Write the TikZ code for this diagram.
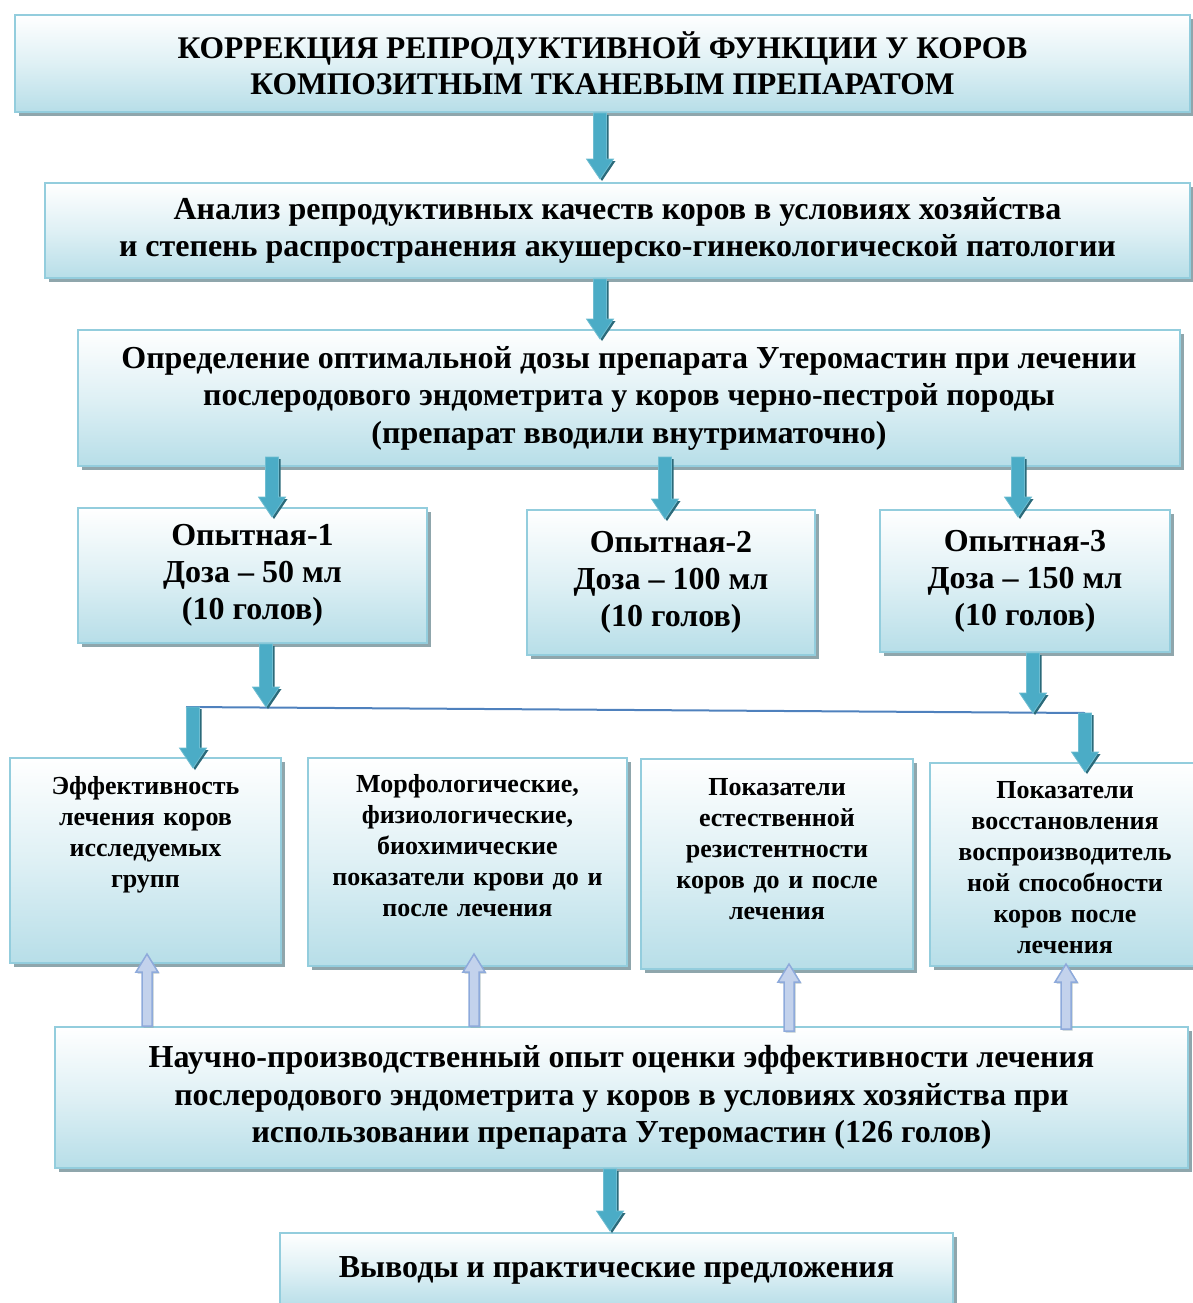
\documentclass[tikz,border=0pt]{standalone}
\usepackage{fontspec}
\setmainfont{Liberation Serif}
\usetikzlibrary{calc,shadows}

\definecolor{boxedge}{HTML}{93CDDD}
\definecolor{boxblue}{HTML}{B7DEE8}
\definecolor{shadowgrey}{HTML}{8FA6AC}
\definecolor{arrteal}{HTML}{4BACC6}
\definecolor{arrlight}{HTML}{93D3E3}
\definecolor{arrdark}{HTML}{2B6A7A}
\definecolor{lavfill}{HTML}{C3D2EC}
\definecolor{lavedge}{HTML}{8EAADB}
\definecolor{joinblue}{HTML}{4F81BD}

\newcommand{\headfnt}{\fontsize{31.5}{36}\selectfont\bfseries}
\newcommand{\bodyfnt}{\fontsize{32}{37.5}\selectfont\bfseries}
\newcommand{\groupfnt}{\fontsize{32}{37}\selectfont\bfseries}
\newcommand{\cellfnt}{\fontsize{26}{31}\selectfont\bfseries}

% fat arrow: x of the tip point, y from start to tip
\newcommand{\tealarrow}[2]{%
  \path[tealarr] let \p1=#1, \p2=#2 in
    (\x2-6.5,\y1) -- (\x2+6.5,\y1) -- (\x2+6.5,\y2+20) -- (\x2+13.5,\y2+20)
    -- (\x2,\y2) -- (\x2-13.5,\y2+20) -- (\x2-6.5,\y2+20) -- cycle;}
\newcommand{\lavarrow}[2]{%
  \path[lavarr] let \p1=#1, \p2=#2 in
    (\x2-5,\y1) -- (\x2+5,\y1) -- (\x2+5,\y2-18) -- (\x2+11,\y2-18)
    -- (\x2,\y2) -- (\x2-11,\y2-18) -- (\x2-5,\y2-18) -- cycle;}

\tikzset{
  plate/.style={draw=boxedge, line width=2pt, top color=white, bottom color=boxblue,
    middle color=boxblue!45,
    drop shadow={shadow xshift=4pt, shadow yshift=-4pt, fill=shadowgrey, opacity=1},
    align=center, inner sep=0pt},
  cell/.style={plate, font=\cellfnt, anchor=north, inner xsep=6pt},
  tealarr/.style={draw=arrteal!80, line width=0.8pt, left color=arrteal,
    middle color=arrlight, right color=arrteal,
    drop shadow={shadow xshift=2pt, shadow yshift=-2pt, fill=arrdark, opacity=1}},
  lavarr/.style={draw=lavedge, line width=1.5pt, left color=lavfill,
    middle color=lavfill!30, right color=lavfill,
    drop shadow={shadow xshift=1.5pt, shadow yshift=-1.5pt, fill=shadowgrey, opacity=.6}},
  joinline/.style={draw=joinblue, line width=2pt}
}

\begin{document}
\begin{tikzpicture}[x=1pt,y=1pt]
  \useasboundingbox (0,0) rectangle (1192,-1303);

  % Main boxes
  \node[plate, font=\headfnt, minimum width=1175, minimum height=97] (title) at (602.5,-63.5)
    {КОРРЕКЦИЯ РЕПРОДУКТИВНОЙ ФУНКЦИИ У КОРОВ\\ КОМПОЗИТНЫМ ТКАНЕВЫМ ПРЕПАРАТОМ};
  \node[plate, font=\bodyfnt, minimum width=1145, minimum height=95] (survey) at (617.5,-230.5)
    {Анализ репродуктивных качеств коров в условиях хозяйства\\
     и степень распространения акушерско-гинекологической патологии};
  \node[plate, font=\bodyfnt, minimum width=1102, minimum height=136] (dose) at (629,-398)
    {Определение оптимальной дозы препарата Утеромастин при лечении\\
     послеродового эндометрита у коров черно-пестрой породы\\
     (препарат вводили внутриматочно)};

  % Groups
  \node[plate, font=\groupfnt, minimum width=349, minimum height=135] (grp1) at (252.5,-575.5)
    {Опытная-1\\ Доза – 50 мл\\ (10 голов)};
  \node[plate, font=\groupfnt, minimum width=288, minimum height=145] (grp2) at (671,-582.5)
    {Опытная-2\\ Доза – 100 мл\\ (10 голов)};
  \node[plate, font=\groupfnt, minimum width=290, minimum height=142] (grp3) at (1025,-581)
    {Опытная-3\\ Доза – 150 мл\\ (10 голов)};

  % Indicators
  \node[cell, text width=259pt, text height=36pt, text depth=169pt] (effect) at (145.5,-757)
    {Эффективность\\ лечения коров\\ исследуемых\\ групп};
  \node[cell, text width=307pt, text height=34pt, text depth=174pt] (blood) at (467.5,-757)
    {Морфологические,\\ физиологические,\\ биохимические\\ показатели крови до и\\ после лечения};
  \node[cell, text width=260pt, text height=36pt, text depth=174pt] (resist) at (777,-758)
    {Показатели\\ естественной\\ резистентности\\ коров до и после\\ лечения};
  \node[cell, text width=258pt, text height=35pt, text depth=168pt] (fertility) at (1065,-762)
    {Показатели\\ восстановления\\ воспроизводитель\\ ной способности\\ коров после\\ лечения};

  \node[plate, font=\bodyfnt, minimum width=1133, minimum height=141] (trial) at (621.5,-1097.5)
    {Научно-производственный опыт оценки эффективности лечения\\
     послеродового эндометрита у коров в условиях хозяйства при\\
     использовании препарата Утеромастин (126 голов)};
  \node[plate, font=\bodyfnt, minimum width=673, minimum height=74] (final) at (616.5,-1270)
    {Выводы и практические предложения};

  % Join line
  \coordinate (jl) at (186,-707);
  \coordinate (jr) at (1085,-713);
  \coordinate (g1out) at ([xshift=13.5pt]grp1.south);
  \coordinate (g3out) at ([xshift=8pt]grp3.south);
  \draw[joinline] (jl) -- (jr);

  % Arrows down
  \tealarrow{(title.south)}{([xshift=-17.5pt,yshift=3pt]survey.north)}
  \tealarrow{(survey.south)}{([xshift=-29pt,yshift=-10pt]dose.north)}
  \tealarrow{([yshift=10pt]dose.south)}{([xshift=19.5pt,yshift=-10pt]grp1.north)}
  \tealarrow{([yshift=10pt]dose.south)}{([xshift=-6pt,yshift=-10pt]grp2.north)}
  \tealarrow{([yshift=10pt]dose.south)}{([xshift=-7pt,yshift=-8pt]grp3.north)}
  \tealarrow{(grp1.south)}{(g1out |- jl)}
  \tealarrow{(grp3.south)}{(g3out |- jr)}
  \tealarrow{(jl)}{([xshift=47.5pt,yshift=-11pt]effect.north)}
  \tealarrow{(jr)}{([xshift=20pt,yshift=-10pt]fertility.north)}
  \tealarrow{(trial.south)}{([xshift=-6.5pt,yshift=1pt]final.north)}

  % Arrows up
  \lavarrow{(trial.north)}{([xshift=1.5pt,yshift=10pt]effect.south)}
  \lavarrow{(trial.north)}{([xshift=6.5pt,yshift=13pt]blood.south)}
  \lavarrow{([yshift=-5pt]trial.north)}{([xshift=12pt,yshift=6pt]resist.south)}
  \lavarrow{([yshift=-3pt]trial.north)}{([xshift=1pt,yshift=3pt]fertility.south)}
\end{tikzpicture}
\end{document}
